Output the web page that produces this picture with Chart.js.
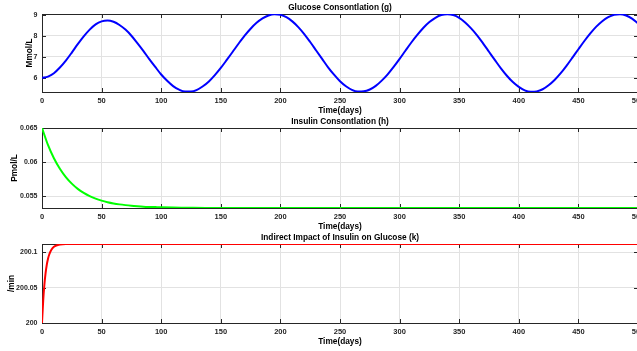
<!DOCTYPE html>
<html>
<head>
<meta charset="utf-8">
<script src="https://cdn.jsdelivr.net/npm/chart.js@4.4.0/dist/chart.umd.min.js"></script>
<style>
  html, body { margin: 0; padding: 0; background: #fff; overflow: hidden; }
  canvas { position: absolute; left: 0; }
</style>
</head>
<body>
<canvas id="glucoseChart" width="680" height="115" style="top:1px"></canvas>
<canvas id="insulinChart" width="680" height="117" style="top:115px"></canvas>
<canvas id="impactChart" width="680" height="116" style="top:231px"></canvas>
<script>
// time axis (days) shared by the glucose curve
const days = [0, 5, 10, 15, 20, 25, 30, 35, 40, 45, 50, 55, 60, 65, 70, 75, 80, 85, 90, 95,
    100, 105, 110, 115, 120, 125, 130, 135, 140, 145, 150, 155, 160, 165, 170, 175, 180, 185, 190, 195,
    200, 205, 210, 215, 220, 225, 230, 235, 240, 245, 250, 255, 260, 265, 270, 275, 280, 285, 290, 295,
    300, 305, 310, 315, 320, 325, 330, 335, 340, 345, 350, 355, 360, 365, 370, 375, 380, 385, 390, 395,
    400, 405, 410, 415, 420, 425, 430, 435, 440, 445, 450, 455, 460, 465, 470, 475, 480, 485, 490, 495, 500];

const glucose = [6.00, 6.06, 6.22, 6.49, 6.82, 7.20, 7.60, 7.97, 8.29, 8.54, 8.68, 8.72, 8.66, 8.51, 8.29, 8.00, 7.65, 7.28, 6.89, 6.52,
    6.16, 5.86, 5.61, 5.44, 5.35, 5.35, 5.43, 5.60, 5.83, 6.13, 6.47, 6.85, 7.24, 7.63, 8.00, 8.33, 8.61, 8.82, 8.96, 9.02,
    8.99, 8.88, 8.68, 8.41, 8.08, 7.70, 7.30, 6.90, 6.50, 6.15, 5.84, 5.60, 5.43, 5.35, 5.36, 5.45, 5.62, 5.87, 6.17, 6.52,
    6.90, 7.30, 7.69, 8.05, 8.38, 8.65, 8.85, 8.98, 9.02, 8.98, 8.85, 8.63, 8.35, 8.02, 7.64, 7.24, 6.84, 6.45, 6.10, 5.80,
    5.57, 5.41, 5.34, 5.36, 5.46, 5.65, 5.90, 6.21, 6.57, 6.96, 7.36, 7.75, 8.11, 8.43, 8.69, 8.88, 8.99, 9.02, 8.96, 8.81, 8.59];

const insulinDays = [0, 5, 10, 15, 20, 25, 30, 35, 40, 45, 50, 55, 60, 65, 70, 75, 80, 85, 90, 95, 100,
    110, 120, 140, 170, 200, 250, 300, 350, 400, 450, 500];
const insulin = [0.06500, 0.06252, 0.06057, 0.05903, 0.05781, 0.05686, 0.05610, 0.05551, 0.05504, 0.05467, 0.05438,
    0.05415, 0.05397, 0.05383, 0.05372, 0.05363, 0.05356, 0.05350, 0.05346, 0.05343, 0.05340,
    0.05336, 0.05334, 0.0533, 0.0533, 0.0533, 0.0533, 0.0533, 0.0533, 0.0533, 0.0533, 0.0533];

const impactDays = [0, 1, 2, 3, 4, 5, 6, 8, 10, 12, 15, 20, 30, 500];
const impact = [200, 200.0317, 200.0545, 200.0708, 200.0825, 200.0908, 200.0968, 200.1042, 200.1080, 200.1099,
    200.1112, 200.1119, 200.112, 200.112];

const xTicks = [0, 50, 100, 150, 200, 250, 300, 350, 400, 450, 500];
const glucoseTicks = [6, 7, 8, 9];
const insulinTicks = [0.055, 0.06, 0.065];
const impactTicks = [200, 200.05, 200.1];

const FONT = '"Liberation Sans", Arial, Helvetica, sans-serif';
const AXIS = '#262626';
const GRID = '#e2e2e2';
const X_TICK_FONT = { family: FONT, size: 7.5, weight: 'bold' };
const Y_TICK_FONT = { family: FONT, size: 7, weight: 'bold' };
const LABEL_FONT = { family: FONT, size: 8.3, weight: 'bold', lineHeight: '11px' };

// MATLAB-like box: top/right edges and inward tick marks
const boxPlugin = {
    id: 'matlabBox',
    beforeDatasetsDraw(chart) {
        const { ctx, chartArea: a, scales: { x, y } } = chart;
        ctx.save();
        ctx.strokeStyle = AXIS;
        ctx.lineWidth = 1;
        ctx.beginPath();
        ctx.moveTo(a.left, a.top + 0.5);
        ctx.lineTo(a.right, a.top + 0.5);
        ctx.moveTo(a.right - 0.5, a.top);
        ctx.lineTo(a.right - 0.5, a.bottom);
        x.ticks.forEach(t => {
            const px = Math.round(x.getPixelForValue(t.value)) + 0.5;
            ctx.moveTo(px, a.bottom);
            ctx.lineTo(px, a.bottom - 4);
            ctx.moveTo(px, a.top);
            ctx.lineTo(px, a.top + 4);
        });
        y.ticks.forEach(t => {
            const py = Math.round(y.getPixelForValue(t.value)) + 0.5;
            ctx.moveTo(a.left, py);
            ctx.lineTo(a.left + 4, py);
            ctx.moveTo(a.right, py);
            ctx.lineTo(a.right - 4, py);
        });
        ctx.stroke();
        ctx.restore();
    }
};

function makeChart(id, xs, ys, color, title, yLabel, yTicks, yMin, yMax, yTitlePad) {
    const points = xs.map((x, i) => ({ x: x, y: ys[i] }));
    return new Chart(document.getElementById(id), {
        type: 'line',
        data: {
            datasets: [{
                data: points,
                borderColor: color,
                borderWidth: 2,
                pointRadius: 0,
                cubicInterpolationMode: 'monotone',
                fill: false
            }]
        },
        options: {
            responsive: false,
            animation: false,
            layout: { padding: { left: 0, right: 42, top: 0, bottom: 0 } },
            plugins: {
                legend: { display: false },
                tooltip: { enabled: false }
            },
            scales: {
                // top axis only carries the plot title, centred over the plot box
                top: {
                    type: 'linear',
                    position: 'top',
                    min: 0,
                    max: 500,
                    afterFit: s => { s.height = 13; },
                    grid: { display: false },
                    border: { display: false },
                    ticks: { display: false },
                    title: {
                        display: true,
                        text: title,
                        color: '#000',
                        font: LABEL_FONT,
                        padding: { top: 1, bottom: 1 }
                    }
                },
                x: {
                    type: 'linear',
                    min: 0,
                    max: 500,
                    afterFit: s => { s.height = 24; },
                    afterBuildTicks: s => { s.ticks = xTicks.map(v => ({ value: v })); },
                    grid: { color: GRID, drawTicks: false },
                    border: { color: AXIS },
                    ticks: {
                        color: AXIS,
                        font: X_TICK_FONT,
                        padding: 4,
                        maxRotation: 0,
                        autoSkip: false,
                        callback: v => String(v)
                    },
                    title: {
                        display: true,
                        text: 'Time(days)',
                        color: '#000',
                        font: LABEL_FONT,
                        padding: { top: 0, bottom: 0 }
                    }
                },
                y: {
                    min: yMin,
                    max: yMax,
                    afterFit: s => { s.width = 42; },
                    afterBuildTicks: s => { s.ticks = yTicks.map(v => ({ value: v })); },
                    grid: { color: GRID, drawTicks: false },
                    border: { color: AXIS },
                    ticks: {
                        color: AXIS,
                        font: Y_TICK_FONT,
                        padding: 4.5,
                        autoSkip: false,
                        callback: v => String(v)
                    },
                    title: {
                        display: true,
                        text: yLabel,
                        color: '#000',
                        font: LABEL_FONT,
                        padding: { top: yTitlePad, bottom: 0 }
                    }
                }
            }
        },
        plugins: [boxPlugin]
    });
}

makeChart('glucoseChart', days, glucose, '#0000ff', 'Glucose Consontlation (g)', 'Mmol/L',
    glucoseTicks, 5.33, 9.03, 24);
makeChart('insulinChart', insulinDays, insulin, '#00ff00', 'Insulin Consontlation (h)', 'Pmol/L',
    insulinTicks, 0.0533, 0.065, 9.5);
makeChart('impactChart', impactDays, impact, '#ff0000', 'Indirect Impact of Insulin on Glucose (k)', '/min',
    impactTicks, 200, 200.112, 6);
</script>
</body>
</html>
